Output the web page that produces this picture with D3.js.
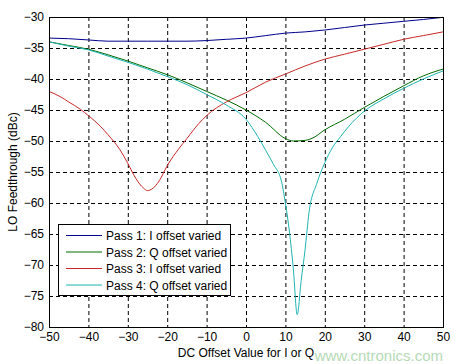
<!DOCTYPE html>
<html><head><meta charset="utf-8">
<script src="https://cdn.jsdelivr.net/npm/d3@7"></script>
<style>body{margin:0;background:#fff}svg{display:block}text{font-family:"Liberation Sans",Arial,sans-serif}</style>
</head><body><svg id="c" width="462" height="364"></svg>
<script>
const xTicks = [-50,-40,-30,-20,-10,0,10,20,30,40,50];
const yTicks = [-30,-35,-40,-45,-50,-55,-60,-65,-70,-75,-80];
const seriesNames = ["Pass 1: I offset varied","Pass 2: Q offset varied","Pass 3: I offset varied","Pass 4: Q offset varied"];
const seriesColors = ["#00008f","#006a00","#c82828","#1fb3b3"];
const pass1 = [[-50,-33.4],[-45,-33.5],[-40,-33.7],[-35,-33.9],[-30,-33.9],[-25,-33.9],[-20,-33.9],[-15,-33.9],[-10,-33.8],[-5,-33.6],[0,-33.4],[5,-33.0],[10,-32.6],[15,-32.4],[20,-32.1],[25,-31.7],[30,-31.3],[35,-31.0],[40,-30.7],[45,-30.4],[50,-30.05]];
const pass2 = [[-50,-34.0],[-45,-34.6],[-40,-35.2],[-35,-36.1],[-30,-37.1],[-25,-38.2],[-20,-39.3],[-15,-40.6],[-10,-42.0],[-5,-43.4],[0,-45.0],[5,-47.0],[10,-49.6],[12,-50.0],[15,-49.9],[17,-49.5],[20,-48.2],[25,-46.5],[30,-44.6],[35,-42.8],[40,-41.1],[45,-39.5],[50,-38.4]];
const pass3 = [[-50,-42.0],[-47,-42.9],[-45,-43.7],[-42,-44.9],[-40,-45.9],[-37,-47.6],[-35,-49.0],[-32,-51.4],[-30,-53.6],[-28,-56.0],[-26,-57.6],[-25,-58.0],[-24,-57.8],[-22,-56.4],[-20,-54.0],[-17,-51.2],[-15,-49.6],[-12,-47.2],[-10,-45.9],[-5,-43.7],[0,-42.2],[5,-40.5],[10,-39.2],[15,-37.9],[20,-36.8],[25,-36.0],[30,-35.2],[35,-34.4],[40,-33.6],[45,-33.0],[50,-32.4]];
const pass4 = [[-50,-34.0],[-45,-34.7],[-40,-35.3],[-35,-36.3],[-30,-37.3],[-25,-38.4],[-20,-39.6],[-15,-40.9],[-10,-42.5],[-5,-44.2],[0,-46.5],[3,-49.3],[5,-51.5],[7,-53.8],[9,-56.5],[10,-60.0],[11,-64.5],[12,-70.5],[13,-78.0],[14,-72.5],[15,-67.5],[16,-61.5],[18,-56.8],[20,-53.5],[22,-51.0],[24,-49.3],[26,-47.7],[30,-45.2],[35,-43.2],[40,-41.5],[45,-40.0],[50,-38.7]];
const allSeries = [pass1,pass2,pass3,pass4];

const svg = d3.select("#c");
const L=49, R=443, T=17, B=327;
const x = d3.scaleLinear().domain([-50,50]).range([L,R]);
const y = d3.scaleLinear().domain([-80,-30]).range([B,T]);

// grid
const g = svg.append("g");
g.selectAll(".gx").data(xTicks.slice(1,-1)).enter().append("line")
  .attr("x1",d=>x(d)+0.5).attr("x2",d=>x(d)+0.5).attr("y1",T).attr("y2",B)
  .attr("stroke","#000").attr("stroke-width",1).attr("stroke-dasharray","4,3");
g.selectAll(".gy").data(yTicks.slice(1,-1)).enter().append("line")
  .attr("y1",d=>Math.round(y(d))+0.5).attr("y2",d=>Math.round(y(d))+0.5).attr("x1",L).attr("x2",R)
  .attr("stroke","#000").attr("stroke-width",1).attr("stroke-dasharray","4,3");

// lines
const line = d3.line().x(d=>x(d[0])).y(d=>y(d[1])).curve(d3.curveMonotoneX);
allSeries.forEach((s,i)=>{
  svg.append("path").datum(s).attr("d",line).attr("fill","none")
    .attr("stroke",seriesColors[i]).attr("stroke-width",1);
});

// axes
const xAxis = d3.axisBottom(x).tickValues(xTicks).tickSize(0).tickPadding(5).tickFormat(d3.format("d"));
const yAxis = d3.axisLeft(y).tickValues(yTicks).tickSize(0).tickPadding(5).tickFormat(d3.format("d"));
const gx = svg.append("g").attr("transform",`translate(0,${B})`).call(xAxis);
const gy = svg.append("g").attr("transform",`translate(${L},0)`).call(yAxis);
[gx,gy].forEach(a=>{a.select(".domain").remove();a.selectAll("text").attr("font-size",12).attr("fill","#000").attr("font-family","Liberation Sans, Arial, sans-serif");});

svg.append("rect").attr("x",L+0.5).attr("y",T+0.5).attr("width",R-L).attr("height",B-T)
  .attr("fill","none").attr("stroke","#000").attr("stroke-width",1);

// labels
svg.append("text").attr("x",246).attr("y",357).attr("text-anchor","middle").attr("font-size",12).text("DC Offset Value for I or Q");
svg.append("text").attr("transform","translate(17,172) rotate(-90)").attr("text-anchor","middle").attr("font-size",12).text("LO Feedthrough (dBc)");

// legend
const lg = svg.append("g");
lg.append("rect").attr("x",58.5).attr("y",224.5).attr("width",172).attr("height",71).attr("fill","#fff").attr("stroke","#000");
seriesNames.forEach((n,i)=>{
  const yy = 235.5 + i*16.5;
  lg.append("line").attr("x1",66).attr("x2",102).attr("y1",yy).attr("y2",yy).attr("stroke",seriesColors[i]).attr("stroke-width",1);
  lg.append("text").attr("x",106).attr("y",yy+4.5).attr("font-size",12).text(n);
});

// watermark
svg.append("text").attr("x",443).attr("y",361).attr("text-anchor","end").attr("font-size",15)
  .attr("fill","#9ccf9c").attr("opacity",0.75).text("www.cntronics.com");
</script></body></html>
